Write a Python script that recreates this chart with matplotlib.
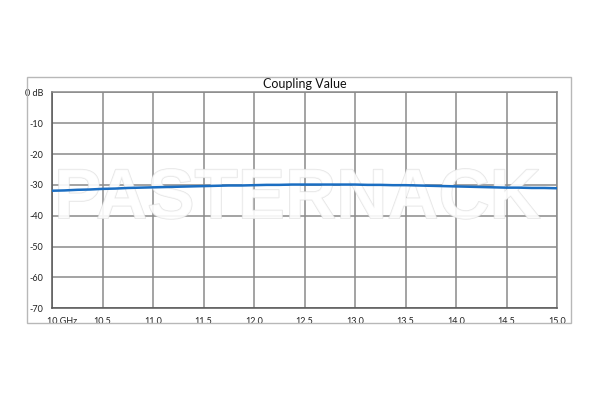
import matplotlib.pyplot as plt
import matplotlib.patheffects as pe
from matplotlib.patches import Rectangle
from matplotlib.transforms import ScaledTranslation

# frequency (GHz) and coupling (dB)
freq_ghz = [10.000, 10.125, 10.250, 10.375, 10.500, 10.625, 10.750, 10.875,
            11.000, 11.125, 11.250, 11.375, 11.500, 11.625, 11.750, 11.875,
            12.000, 12.125, 12.250, 12.375, 12.500, 12.625, 12.750, 12.875,
            13.000, 13.125, 13.250, 13.375, 13.500, 13.625, 13.750, 13.875,
            14.000, 14.125, 14.250, 14.375, 14.500, 14.625, 14.750, 14.875,
            15.000]
coupling_db = [-31.9, -31.8, -31.6, -31.5, -31.3, -31.2, -31.0, -30.9,
               -30.8, -30.7, -30.6, -30.5, -30.4, -30.3, -30.2, -30.2,
               -30.1, -30.0, -30.0, -29.9, -29.9, -29.9, -29.9, -29.9,
               -29.9, -30.0, -30.0, -30.1, -30.1, -30.2, -30.3, -30.4,
               -30.5, -30.6, -30.7, -30.8, -30.9, -30.9, -31.0, -31.0,
               -31.1]

x_ticks = [10.0, 10.5, 11.0, 11.5, 12.0, 12.5, 13.0, 13.5, 14.0, 14.5, 15.0]
x_labels = ["10 GHz", "10.5", "11.0", "11.5", "12.0", "12.5", "13.0",
            "13.5", "14.0", "14.5", "15.0"]
y_ticks = [0, -10, -20, -30, -40, -50, -60, -70]
y_labels = ["0 dB", "-10", "-20", "-30", "-40", "-50", "-60", "-70"]

W, H = 600, 400
plt.rcParams["font.family"] = ["Lato", "DejaVu Sans"]

fig = plt.figure(figsize=(6, 4), dpi=100)
fig.patch.set_facecolor("white")

# light outer frame around the chart
fig.patches.append(Rectangle((27 / W, 1 - 323 / H), (571 - 27) / W, (323 - 77) / H,
                             transform=fig.transFigure, fill=False,
                             edgecolor="#b8b8b8", linewidth=1.0))

ax = fig.add_axes([52 / W, 1 - 308.3 / H, 505 / W, 216 / H])
ax.set_xlim(10, 15)
ax.set_ylim(-70, 0)
ax.set_xticks(x_ticks)
ax.set_xticklabels(x_labels)
ax.set_yticks(y_ticks)
ax.set_yticklabels(y_labels)
ax.tick_params(length=0, labelsize=6.5, colors="#222222")
ax.tick_params(axis="x", pad=6)
ax.tick_params(axis="y", pad=6)
ax.grid(True, color="#8a8a8a", linewidth=1.1)
ax.set_axisbelow(True)
for s in ax.spines.values():
    s.set_color("#8a8a8a")
    s.set_linewidth(1.1)
ax.spines["left"].set_color("#555555")
ax.spines["bottom"].set_color("#555555")

first = ax.get_xticklabels()[0]
first.set_horizontalalignment("left")
first.set_transform(first.get_transform() + ScaledTranslation(-5 / 100, 0, fig.dpi_scale_trans))

ax.set_title("Coupling Value", fontsize=9, pad=3, color="#111111")

# watermark
wm = ax.text(0.486, 0.50, "PASTERNACK", transform=ax.transAxes,
             ha="center", va="center", fontsize=51, fontweight="bold",
             family="Liberation Sans", color="white", alpha=0.7, zorder=3)
wm.set_path_effects([pe.Stroke(linewidth=1.0, foreground="#dadada"), pe.Normal()])

ax.plot(freq_ghz, coupling_db, color="#1b6ec2", linewidth=1.8, zorder=4)

fig.savefig("out.png", dpi=100)
